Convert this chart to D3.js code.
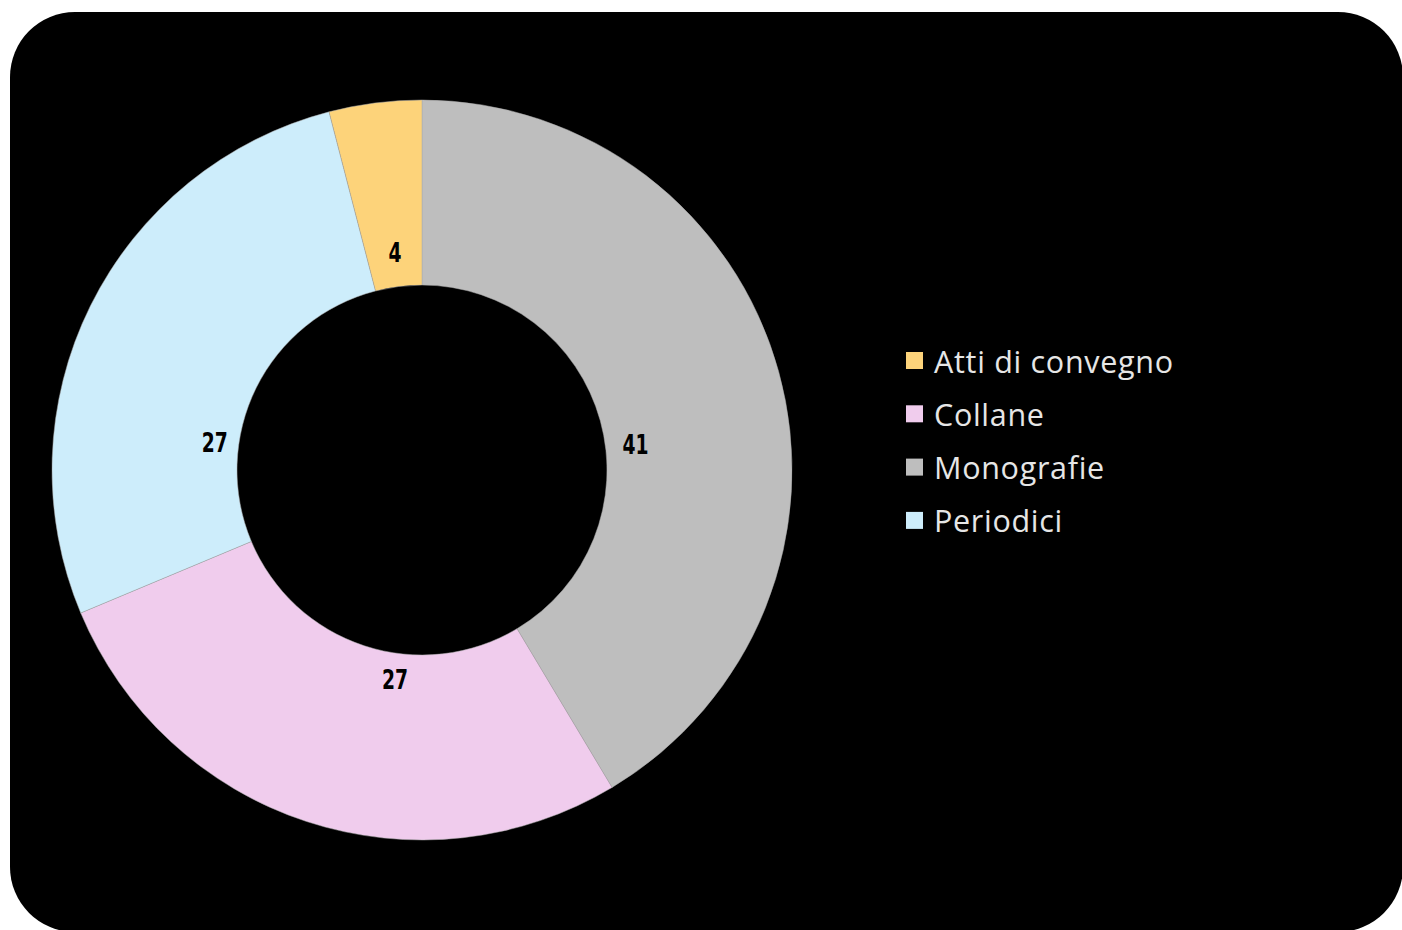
<!DOCTYPE html>
<html><head><meta charset="utf-8">
<script src="https://cdn.jsdelivr.net/npm/d3@7"></script>
<style>html,body{margin:0;padding:0;background:#fff;}svg{display:block;}</style>
</head><body>
<svg id="c" width="1402" height="930"></svg>
<script>
const categories = ["Monografie", "Collane", "Periodici", "Atti di convegno"];
const values = [41, 27, 27, 4];
const colors = ["#bebebe", "#f0cced", "#cdedfb", "#fdd37a"];
const legendOrder = ["Atti di convegno", "Collane", "Monografie", "Periodici"];
// label placement (degrees clockwise from 12 o'clock, and radius)
const labelAngles = [83.3, 187.3, 277.4, 352.9];
const labelRadii = [215, 212, 209, 219];

const svg = d3.select("#c");
svg.append("rect").attr("x", 10).attr("y", 12).attr("width", 1393).attr("height", 920)
  .attr("rx", 65).attr("ry", 65).attr("fill", "#000");

const cx = 422, cy = 470, R = 370, r = 185;
const g = svg.append("g").attr("transform", `translate(${cx},${cy})`);
const pie = d3.pie().sort(null).value(d => d.v);
const data = categories.map((c, i) => ({c, v: values[i], col: colors[i], la: labelAngles[i], lr: labelRadii[i]}));
const arcs = pie(data);
const arc = d3.arc().innerRadius(r).outerRadius(R);
g.selectAll("path").data(arcs).join("path")
  .attr("d", arc).attr("fill", d => d.data.col)
  .attr("stroke", "#aaa").attr("stroke-width", 0.5);

g.selectAll("text.lbl").data(arcs).join("text").attr("class", "lbl")
  .attr("transform", d => {
    const a = d.data.la * Math.PI / 180;
    return `translate(${d.data.lr * Math.sin(a)},${-d.data.lr * Math.cos(a) + 9}) scale(0.72,1)`;
  })
  .attr("text-anchor", "middle")
  .attr("font-family", "'DejaVu Sans', sans-serif")
  .attr("font-weight", "bold").attr("font-size", 26).attr("fill", "#000")
  .text(d => d.data.v);

const colorOf = c => colors[categories.indexOf(c)];
const lg = svg.append("g").attr("transform", "translate(906,352)");
const rows = lg.selectAll("g").data(legendOrder).join("g")
  .attr("transform", (d, i) => `translate(0,${i * 53.3})`);
rows.append("rect").attr("width", 17).attr("height", 17).attr("fill", d => colorOf(d));
rows.append("text").attr("x", 28).attr("y", 20.5)
  .attr("font-family", "'Open Sans', sans-serif").attr("font-size", 30.5)
  .attr("letter-spacing", 0.7)
  .attr("fill", "#e6e6e6").text(d => d);
</script>
</body></html>
